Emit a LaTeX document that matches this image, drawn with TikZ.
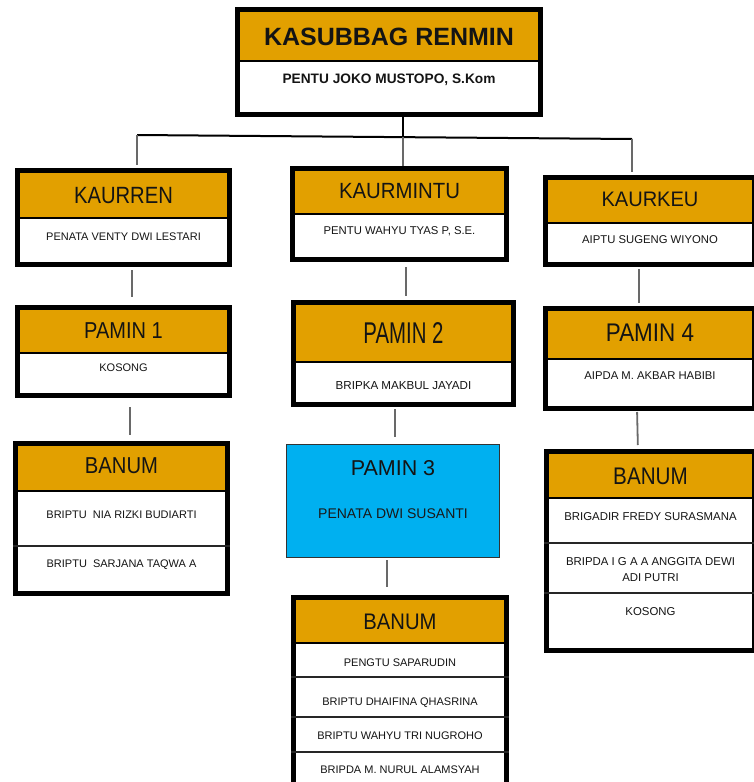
\documentclass[tikz,border=0pt]{standalone}
\usepackage{fontspec}
\setmainfont{Liberation Sans}
\usepackage{graphicx}
\definecolor{hdr}{RGB}{226,160,0}
\definecolor{paminblue}{RGB}{0,176,240}
\definecolor{linkgray}{RGB}{105,105,105}
\newcommand\ttltext[3]{\scalebox{#1}[1]{\fontsize{#2}{#2}\selectfont #3}}
\tikzset{
  boxbody/.style={rectangle, fill=white, inner sep=0pt, outer sep=0pt},
  frame/.style={draw=black, line width=5pt},
  hdrfill/.style={fill=hdr},
  hline/.style={draw=black, line width=1.5pt},
  rowline/.style={draw=black!85, line width=2pt},
  conn/.style={draw=linkgray, line width=1.8pt},
  trunk/.style={draw=black, line width=2pt},
  ttl/.style={anchor=base, inner sep=0pt, text=black!92},
  nm/.style={anchor=base, inner sep=0pt, text=black!92, align=center,
             font=\fontsize{11.3}{16}\selectfont},
  p3box/.style={rectangle, fill=paminblue, draw=black!80, line width=1pt,
                inner sep=0pt, outer sep=0pt}
}
% name, x1, y1, x2, y2, header bottom
\newcommand\obox[6]{%
  \node[boxbody, minimum width={#4-#2-5}, minimum height={#5-#3-5}] (#1) at ({(#2+#4)/2},{(#3+#5)/2}) {};
  \fill[hdrfill] (#2,#3) rectangle (#4,#6);
  \draw[hline] (#2,#6) -- (#4,#6);
  \draw[frame] (#1.north west) rectangle (#1.south east);
}
\begin{document}
\begin{tikzpicture}[x=1pt,y=-1pt]
\useasboundingbox (0,0) rectangle (754,782);
\fill[white] (0,0) rectangle (754,782);
\begin{scope}
\clip (0,0) rectangle (754,782);
% boxes
\obox{kasubbag}{235}{7}{543}{117}{61}
\obox{kaurren}{15}{168}{232}{267}{218}
\obox{kaurmintu}{290}{166}{509}{262}{214}
\obox{kaurkeu}{543}{175}{757}{267}{223}
\obox{pamin1}{15}{305}{232}{398}{353}
\obox{pamin2}{291}{300}{516}{407}{362}
\obox{pamin4}{543}{306}{757}{411}{359}
\obox{banumL}{13}{441}{230}{596}{491}
\obox{banumR}{544}{449}{757}{653}{498}
\obox{banumM}{291}{595}{509}{790}{643}
\node[p3box, minimum width=213, minimum height=113] (pamin3) at (393,501) {};
% row dividers
\draw[rowline] (13,546) -- (230,546);
\draw[rowline] (544,543) -- (757,543);
\draw[rowline] (544,593) -- (757,593);
\draw[rowline] (291,677) -- (509,677);
\draw[rowline] (291,717) -- (509,717);
\draw[rowline] (291,752) -- (509,752);
% connectors
\coordinate (hl) at (137,135);
\coordinate (hm) at (403,137);
\coordinate (hr) at (632,139);
\draw[trunk] (kasubbag.south -| hm) -- (hm);
\draw[trunk] (hl) -- (hr);
\draw[conn, shorten >=5.5pt] (hl) -- (kaurren.north -| hl);
\draw[conn, shorten >=2.5pt] (hm) -- (kaurmintu.north -| hm);
\draw[conn, shorten >=5.5pt] (hr) -- (kaurkeu.north -| hr);
\draw[conn, shorten <=5.5pt, shorten >=10.5pt] ([xshift=8.5pt]kaurren.south) -- ([xshift=8.5pt]pamin1.north);
\draw[conn, shorten <=11.5pt, shorten >=8.5pt] ([xshift=6.5pt]pamin1.south) -- ([xshift=8.5pt]banumL.north);
\draw[conn, shorten <=7.5pt, shorten >=6.5pt] ([xshift=6.5pt]kaurmintu.south) -- ([xshift=2.5pt]pamin2.north);
\draw[conn, shorten <=4.5pt, shorten >=7.5pt] ([xshift=-8.5pt]pamin2.south) -- ([xshift=2pt]pamin3.north);
\draw[conn, shorten <=2.5pt, shorten >=10.5pt] ([xshift=-6pt]pamin3.south) -- ([xshift=-13pt]banumM.north);
\draw[conn, shorten <=4.5pt, shorten >=5.5pt] ([xshift=-11pt]kaurkeu.south) -- ([xshift=-11pt]pamin4.north);
\draw[conn, shorten <=3.5pt, shorten >=6.5pt] ([xshift=-13pt]pamin4.south) -- ([xshift=-12.5pt]banumR.north);
% titles
\node[ttl] (tKasubbag) at (kasubbag |- 0,45) {\fontsize{25}{25}\selectfont\bfseries KASUBBAG RENMIN};
\node[nm, font=\fontsize{13.7}{16}\selectfont\bfseries] (nKasubbag) at (kasubbag |- 0,83) {PENTU JOKO MUSTOPO, S.Kom};
\node[ttl] (tKaurren) at (kaurren |- 0,203) {\ttltext{0.86}{23.5}{KAURREN}};
\node[nm, font=\fontsize{11}{16}\selectfont] (nKaurren) at (kaurren |- 0,240) {PENATA VENTY DWI LESTARI};
\node[ttl] (tKaurmintu) at (kaurmintu |- 0,198) {\ttltext{0.925}{22}{KAURMINTU}};
\node[nm] (nKaurmintu) at (kaurmintu |- 0,234) {PENTU WAHYU TYAS P, S.E.};
\node[ttl] (tKaurkeu) at (kaurkeu |- 0,206.5) {\ttltext{0.955}{21}{KAURKEU}};
\node[nm] (nKaurkeu) at (kaurkeu |- 0,243) {AIPTU SUGENG WIYONO};
\node[ttl] (tPamin1) at (pamin1 |- 0,338) {\ttltext{0.87}{23}{PAMIN 1}};
\node[nm, font=\fontsize{11}{16}\selectfont] (nPamin1) at (pamin1 |- 0,371.5) {KOSONG};
\node[ttl] (tPamin2) at (pamin2 |- 0,343) {\ttltext{0.68}{30}{PAMIN 2}};
\node[nm, font=\fontsize{11.6}{16}\selectfont] (nPamin2) at (pamin2 |- 0,389) {BRIPKA MAKBUL JAYADI};
\node[ttl] (tPamin3) at (pamin3 |- 0,475) {\ttltext{1}{21.5}{PAMIN 3}};
\node[nm, text=black!90, font=\fontsize{14}{16}\selectfont] (nPamin3) at (pamin3 |- 0,518) {PENATA DWI SUSANTI};
\node[ttl] (tPamin4) at (pamin4 |- 0,341.5) {\ttltext{0.88}{25.5}{PAMIN 4}};
\node[nm] (nPamin4) at (pamin4 |- 0,379) {AIPDA M. AKBAR HABIBI};
\node[ttl] (tBanumL) at (banumL |- 0,473) {\ttltext{0.88}{23}{BANUM}};
\node[nm, font=\fontsize{11}{16}\selectfont] (nBanumL1) at (banumL |- 0,518) {BRIPTU\ \ NIA RIZKI BUDIARTI};
\node[nm, font=\fontsize{11}{16}\selectfont] (nBanumL2) at (banumL |- 0,567) {BRIPTU\ \ SARJANA TAQWA A};
\node[ttl] (tBanumR) at (banumR |- 0,484) {\ttltext{0.86}{24}{BANUM}};
\node[nm, font=\fontsize{11.4}{16}\selectfont] (nBanumR1) at (banumR |- 0,520) {BRIGADIR FREDY SURASMANA};
\node[nm, font=\fontsize{11.4}{16}\selectfont] (nBanumR2) at (banumR |- 0,581) {BRIPDA I G A A ANGGITA DEWI\\ADI PUTRI};
\node[nm, font=\fontsize{11.4}{16}\selectfont] (nBanumR3) at (banumR |- 0,615) {KOSONG};
\node[ttl] (tBanumM) at (banumM |- 0,629) {\ttltext{0.9}{22.5}{BANUM}};
\node[nm, font=\fontsize{11}{16}\selectfont] (nBanumM1) at (banumM |- 0,666) {PENGTU SAPARUDIN};
\node[nm, font=\fontsize{11}{16}\selectfont] (nBanumM2) at (banumM |- 0,705.5) {BRIPTU DHAIFINA QHASRINA};
\node[nm, font=\fontsize{11}{16}\selectfont] (nBanumM3) at (banumM |- 0,739) {BRIPTU WAHYU TRI NUGROHO};
\node[nm, font=\fontsize{11}{16}\selectfont] (nBanumM4) at (banumM |- 0,773) {BRIPDA M. NURUL ALAMSYAH};
\end{scope}
\end{tikzpicture}
\end{document}
